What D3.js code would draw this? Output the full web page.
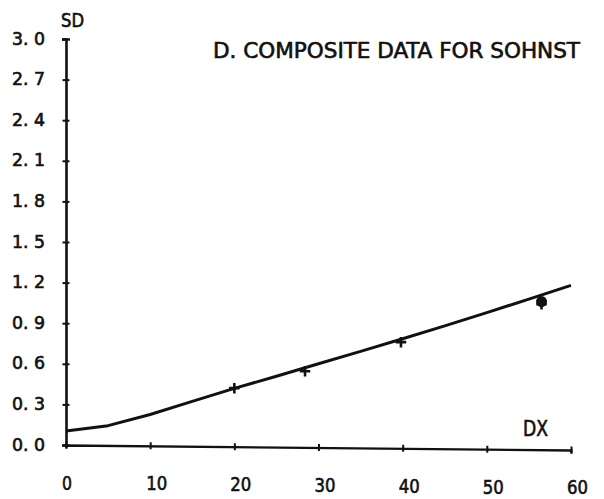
<!DOCTYPE html>
<html>
<head>
<meta charset="utf-8">
<script src="https://cdn.jsdelivr.net/npm/d3@7"></script>
<style>
  html, body { margin: 0; padding: 0; background: #fff; }
  svg text { font-family: "DejaVu Sans Condensed", "DejaVu Sans", sans-serif; font-weight: normal; fill: #111; stroke: #111; stroke-width: 0.6; }
</style>
</head>
<body>
<svg id="chart" width="604" height="499"></svg>
<script>
// Fitted curve of SD against DX
const curveDX = [0, 5, 10, 15, 20, 25, 30, 35, 40, 45, 50, 55, 60];
const curveSD = [0.103, 0.143, 0.225, 0.322, 0.418, 0.508, 0.6, 0.692, 0.785, 0.88, 0.978, 1.078, 1.18];

// Observed points
const crossDX = [20, 28.4, 39.8, 56.5];
const crossSD = [0.42, 0.545, 0.76, 1.04];
const dotDX = [56.5];
const dotSD = [1.06];

// Axis ticks
const xTicks = [0, 10, 20, 30, 40, 50, 60];
const yTicks = [0, 0.3, 0.6, 0.9, 1.2, 1.5, 1.8, 2.1, 2.4, 2.7, 3.0];

const svg = d3.select("#chart");
const x = d3.scaleLinear().domain([0, 60]).range([66, 571]);
const y = d3.scaleLinear().domain([0, 3]).range([445, 39]);
const ink = "#111";
const skew = 0.0099; // the plotted x axis drops slightly to the right

// Y axis
const yAxis = svg.append("g")
  .attr("transform", `translate(${x(0)},0)`)
  .call(d3.axisLeft(y).tickValues(yTicks).tickSize(4).tickPadding(17)
    .tickFormat(d => d.toFixed(1).replace(".", ". ")));
yAxis.select(".domain").attr("stroke", ink).attr("stroke-width", 2.6);
yAxis.selectAll(".tick line").attr("x1", -3.5).attr("x2", 3.5).attr("stroke", ink).attr("stroke-width", 2);
yAxis.selectAll(".tick").filter(d => d === 3).select("line").attr("x1", -4).attr("x2", 4).attr("stroke-width", 2.4);
yAxis.selectAll(".tick text")
  .attr("font-size", 18).attr("dy", "0.28em").attr("fill", ink)
  .attr("textLength", 33).attr("lengthAdjust", "spacingAndGlyphs");

// X axis line and ticks
const xAxis = svg.append("g")
  .attr("transform", `rotate(0.57, ${x(0)}, ${y(0)}) translate(0,${y(0)})`)
  .call(d3.axisBottom(x).tickValues(xTicks).tickSize(3.5).tickFormat(""));
xAxis.select(".domain").attr("stroke", ink).attr("stroke-width", 2.4);
xAxis.selectAll(".tick line").attr("y1", -3.5).attr("y2", 3.5).attr("stroke", ink).attr("stroke-width", 2);

// X tick labels, following the axis drop
svg.append("g").selectAll("text").data(xTicks).join("text")
  .attr("x", d => x(d) - 4)
  .attr("y", d => y(0) + 44.5 + (x(d) - x(0)) * skew)
  .attr("font-size", 19.5)
  .attr("textLength", d => d === 0 ? 10 : 21).attr("lengthAdjust", "spacingAndGlyphs")
  .text(d3.format("d"));

// Curve
const line = d3.line().x((d, i) => x(curveDX[i])).y(d => y(d));
svg.append("path").datum(curveSD)
  .attr("d", line)
  .attr("fill", "none").attr("stroke", ink).attr("stroke-width", 3).attr("stroke-linejoin", "round");

// Cross markers
const plus = { draw(ctx, s) { const r = Math.sqrt(s) / 2; ctx.moveTo(-r, 0); ctx.lineTo(r, 0); ctx.moveTo(0, -r); ctx.lineTo(0, r); } };
svg.selectAll("path.cross").data(crossSD).join("path")
  .attr("class", "cross")
  .attr("transform", (d, i) => `translate(${x(crossDX[i])},${y(d)})`)
  .attr("d", d3.symbol().type(plus).size(110))
  .attr("fill", "none").attr("stroke", ink).attr("stroke-width", 2.6);

// Dot markers
svg.selectAll("circle.dot").data(dotSD).join("circle")
  .attr("class", "dot")
  .attr("cx", (d, i) => x(dotDX[i])).attr("cy", d => y(d)).attr("r", 5.5)
  .attr("fill", ink);

// Labels
svg.append("text").attr("x", 61).attr("y", 27).attr("font-size", 19)
  .attr("textLength", 23).attr("lengthAdjust", "spacingAndGlyphs").text("SD");
svg.append("text").attr("x", 523).attr("y", 436).attr("font-size", 21)
  .attr("textLength", 25).attr("lengthAdjust", "spacingAndGlyphs").text("DX");
svg.append("text").attr("x", 213).attr("y", 58).attr("font-size", 22)
  .attr("textLength", 367).attr("lengthAdjust", "spacingAndGlyphs")
  .text("D.  COMPOSITE DATA FOR SOHNST");
</script>
</body>
</html>
